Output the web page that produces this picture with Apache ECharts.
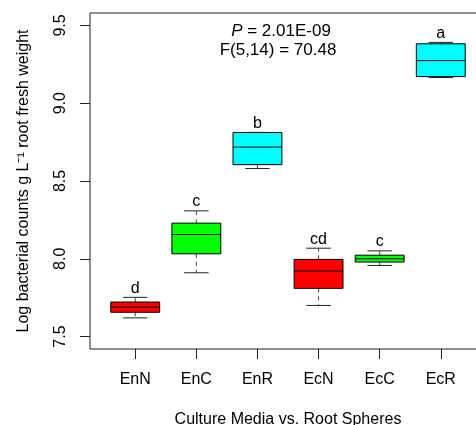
<!DOCTYPE html>
<html>
<head>
<meta charset="utf-8">
<script src="https://cdn.jsdelivr.net/npm/echarts@6/dist/echarts.min.js"></script>
<style>
  html, body { margin: 0; padding: 0; background: #fff; }
  #chart { width: 476px; height: 425px; }
</style>
</head>
<body>
<div id="chart"></div>
<script>
// groups along the x axis
const categories = ["EnN", "EnC", "EnR", "EcN", "EcC", "EcR"]
// box fill per group
const boxColors = ["#ff0000", "#00ff00", "#00ffff", "#ff0000", "#00ff00", "#00ffff"]
// five-number summaries
const whiskerLow = [7.62, 7.91, 8.58, 7.70, 7.957, 9.165]
const lowerQuartile = [7.656, 8.032, 8.605, 7.81, 7.979, 9.171]
const medians = [7.69, 8.156, 8.718, 7.921, 8.0, 9.274]
const upperQuartile = [7.722, 8.229, 8.812, 7.996, 8.023, 9.382]
const whiskerHigh = [7.752, 8.308, 8.812, 8.068, 8.051, 9.391]
// significance letters above each box
const sigLetters = ["d", "c", "b", "cd", "c", "a"]
// y ticks
const yTicks = [7.5, 8.0, 8.5, 9.0, 9.5]

const FONT = "'Liberation Sans', Arial, sans-serif"
const INK = "#222"

const boxData = categories.map((c, i) => [
  i + 1, whiskerLow[i], lowerQuartile[i], medians[i], upperQuartile[i], whiskerHigh[i]
])

// one box with dashed whiskers, caps and a letter on top
function renderBox(params, api) {
  const x = api.value(0)
  const lo = api.value(1)
  const q1 = api.value(2)
  const md = api.value(3)
  const q3 = api.value(4)
  const hi = api.value(5)
  const i = params.dataIndex
  const halfBox = 0.4
  const halfCap = 0.2

  const tl = api.coord([x - halfBox, q3])
  const br = api.coord([x + halfBox, q1])
  const mL = api.coord([x - halfBox, md])
  const mR = api.coord([x + halfBox, md])
  const top = api.coord([x, hi])
  const bot = api.coord([x, lo])
  const boxTop = api.coord([x, q3])
  const boxBot = api.coord([x, q1])
  const capL = api.coord([x - halfCap, hi])[0]
  const capR = api.coord([x + halfCap, hi])[0]

  const dashed = { stroke: "#444", lineWidth: 1, lineDash: [4, 4] }
  const solid = { stroke: INK, lineWidth: 1 }

  return {
    type: "group",
    children: [
      { type: "line", shape: { x1: top[0], y1: boxTop[1], x2: top[0], y2: top[1] }, style: dashed },
      { type: "line", shape: { x1: bot[0], y1: boxBot[1], x2: bot[0], y2: bot[1] }, style: dashed },
      { type: "line", shape: { x1: capL, y1: top[1], x2: capR, y2: top[1] }, style: solid },
      { type: "line", shape: { x1: capL, y1: bot[1], x2: capR, y2: bot[1] }, style: solid },
      {
        type: "rect",
        shape: { x: tl[0], y: tl[1], width: br[0] - tl[0], height: br[1] - tl[1] },
        style: { fill: boxColors[i], stroke: "#000", lineWidth: 1 }
      },
      { type: "line", shape: { x1: mL[0], y1: mL[1], x2: mR[0], y2: mR[1] }, style: { stroke: "#000", lineWidth: 1 } },
      {
        type: "text",
        x: top[0],
        y: top[1] - 1,
        style: {
          text: sigLetters[i],
          fill: "#000",
          font: "16px " + FONT,
          align: "center",
          verticalAlign: "bottom"
        }
      }
    ]
  }
}

const chart = echarts.init(document.getElementById("chart"), null, { renderer: "canvas" })

chart.setOption({
  animation: false,
  backgroundColor: "#fff",
  textStyle: { fontFamily: FONT },
  grid: {
    show: true,
    left: 90,
    top: 13,
    width: 396,
    height: 336,
    outerBoundsMode: "none",
    containLabel: false,
    borderColor: INK,
    borderWidth: 1,
    backgroundColor: "transparent"
  },
  xAxis: {
    type: "value",
    min: 0.26,
    max: 6.74,
    splitLine: { show: false },
    axisLine: { show: false },
    axisTick: {
      show: true,
      length: 10,
      lineStyle: { color: INK },
      customValues: categories.map((c, i) => i + 1)
    },
    axisLabel: {
      color: "#000",
      fontSize: 16,
      fontFamily: FONT,
      margin: 23,
      customValues: categories.map((c, i) => i + 1),
      formatter: v => categories[Math.round(v) - 1] || ""
    },
    name: "Culture Media vs. Root Spheres",
    nameLocation: "middle",
    nameGap: 63,
    nameTextStyle: { color: "#000", fontSize: 16, fontFamily: FONT }
  },
  yAxis: {
    type: "value",
    min: 7.42,
    max: 9.58,
    splitLine: { show: false },
    axisLine: { show: false },
    axisTick: {
      show: true,
      length: 10,
      lineStyle: { color: INK },
      customValues: yTicks
    },
    axisLabel: {
      color: "#000",
      fontSize: 16,
      fontFamily: FONT,
      rotate: 90,
      margin: 21,
      customValues: yTicks,
      formatter: v => v.toFixed(1)
    },
    name: "Log bacterial counts g L\u207B\u00B9 root fresh weight",
    nameLocation: "middle",
    nameRotate: 90,
    nameGap: 58,
    nameTextStyle: { color: "#000", fontSize: 16, fontFamily: FONT }
  },
  graphic: [
    {
      type: "text",
      x: 281,
      y: 31,
      style: {
        text: "{it|P} = 2.01E-09",
        rich: { it: { fontStyle: "italic", fontSize: 17, fontFamily: FONT } },
        font: "17px " + FONT,
        fill: "#000",
        align: "center",
        verticalAlign: "middle"
      }
    },
    {
      type: "text",
      x: 278,
      y: 50,
      style: {
        text: "F(5,14) = 70.48",
        font: "17px " + FONT,
        fill: "#000",
        align: "center",
        verticalAlign: "middle"
      }
    }
  ],
  series: [
    {
      type: "custom",
      renderItem: renderBox,
      data: boxData,
      clip: false,
      encode: { x: 0, y: [1, 2, 3, 4, 5] }
    }
  ]
})
</script>
</body>
</html>
